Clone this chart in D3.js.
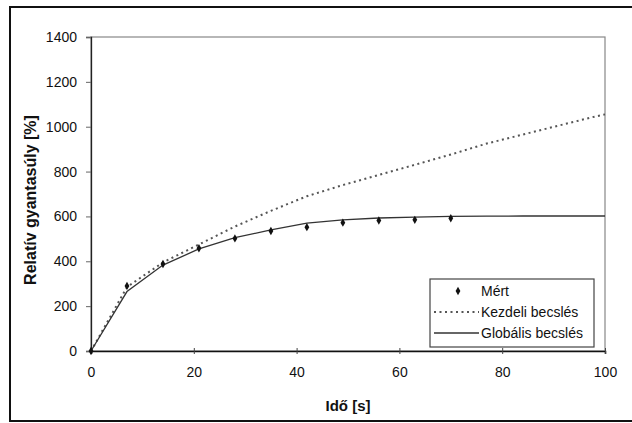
<!DOCTYPE html>
<html>
<head>
<meta charset="utf-8">
<script src="https://cdn.jsdelivr.net/npm/d3@7"></script>
<style>
  body { margin: 0; background: #fff; }
  text { font-family: "Liberation Sans", Arial, sans-serif; fill: #111; }
</style>
</head>
<body>
<div id="chart"></div>
<script>
// Mért pontok
const measuredT = [0, 7, 14, 21, 28, 35, 42, 49, 56, 63, 70];
const measuredY = [0, 290, 388, 458, 502, 535, 552, 572, 582, 585, 592];

// Kezdeli becslés
const initT = [0, 7, 14, 21, 28, 35, 42, 49, 56, 63, 70, 77, 84, 91, 98, 100];
const initY = [0, 285, 395, 475, 555, 625, 690, 740, 785, 830, 876, 925, 965, 1005, 1045, 1055];

// Globális becslés
const globT = [0, 7, 14, 21, 28, 35, 42, 49, 56, 63, 70, 77, 84, 91, 100];
const globY = [0, 265, 383, 455, 505, 540, 570, 585, 593, 597, 600, 601, 602, 602, 602];

const xTicks = [0, 20, 40, 60, 80, 100];
const yTicks = [0, 200, 400, 600, 800, 1000, 1200, 1400];
const legendLabels = ['Mért', 'Kezdeli becslés', 'Globális becslés'];

const W = 632, H = 423;
const plotL = 91, plotR = 605, plotT = 37, plotB = 351;

const svg = d3.select('#chart').append('svg')
  .attr('width', W)
  .attr('height', H);

// külső keret
svg.append('rect')
  .attr('x', 10).attr('y', 7)
  .attr('width', 630).attr('height', 414)
  .attr('fill', 'none')
  .attr('stroke', '#111')
  .attr('stroke-width', 2);

const x = d3.scaleLinear().domain([0, 100]).range([plotL, plotR]);
const y = d3.scaleLinear().domain([0, 1400]).range([plotB, plotT]);

// rajzterület kerete
svg.append('rect')
  .attr('x', plotL).attr('y', plotT)
  .attr('width', plotR - plotL).attr('height', plotB - plotT)
  .attr('fill', 'none')
  .attr('stroke', '#888')
  .attr('stroke-width', 1.2);

// tengelyek
const xAxis = svg.append('g')
  .attr('transform', `translate(0,${plotB})`)
  .call(d3.axisBottom(x).tickValues(xTicks).tickFormat(d3.format('d')).tickSize(3).tickPadding(13));
xAxis.selectAll('.tick line').attr('y1', -3).attr('stroke', '#444');
xAxis.select('.domain').attr('stroke', '#111').attr('stroke-width', 1.6);

const yAxis = svg.append('g')
  .attr('transform', `translate(${plotL},0)`)
  .call(d3.axisLeft(y).tickValues(yTicks).tickFormat(d3.format('d')).tickSize(5).tickPadding(9));
yAxis.selectAll('.tick line').attr('stroke', '#666');
yAxis.select('.domain').attr('stroke', '#222').attr('stroke-width', 1.3);

svg.selectAll('.tick text')
  .style('font-family', '"Liberation Sans", Arial, sans-serif')
  .style('font-size', '14px')
  .attr('fill', '#111');

// tengelycímek
svg.append('text')
  .attr('x', (plotL + plotR) / 2).attr('y', 411)
  .attr('text-anchor', 'middle')
  .style('font-size', '15px')
  .style('font-weight', 'bold')
  .text('Idő [s]');

svg.append('text')
  .attr('transform', `translate(36,${(plotT + plotB) / 2 + 6}) rotate(-90)`)
  .attr('text-anchor', 'middle')
  .style('font-size', '16px')
  .style('font-weight', 'bold')
  .text('Relatív gyantasúly [%]');

const line = d3.line().x(d => x(d[0])).y(d => y(d[1]));

// Kezdeli becslés (pontozott)
svg.append('path')
  .datum(d3.zip(initT, initY))
  .attr('d', line)
  .attr('fill', 'none')
  .attr('stroke', '#555')
  .attr('stroke-width', 2)
  .attr('stroke-dasharray', '2,3.5');

// Globális becslés
svg.append('path')
  .datum(d3.zip(globT, globY))
  .attr('d', line)
  .attr('fill', 'none')
  .attr('stroke', '#333')
  .attr('stroke-width', 1.3);

// Mért
svg.append('g')
  .selectAll('path')
  .data(d3.zip(measuredT, measuredY))
  .enter().append('path')
  .attr('d', d3.symbol(d3.symbolDiamond, 20))
  .attr('transform', d => `translate(${x(d[0])},${y(d[1])})`)
  .attr('fill', '#111');

// jelmagyarázat
const lg = svg.append('g');
lg.append('rect')
  .attr('x', 430).attr('y', 279)
  .attr('width', 164).attr('height', 68)
  .attr('fill', '#fff')
  .attr('stroke', '#444')
  .attr('stroke-width', 1.2);

const rowsY = [291, 312, 333];
lg.append('path')
  .attr('d', d3.symbol(d3.symbolDiamond, 20))
  .attr('transform', `translate(458,${rowsY[0]})`)
  .attr('fill', '#111');
lg.append('line')
  .attr('x1', 434).attr('x2', 479)
  .attr('y1', rowsY[1]).attr('y2', rowsY[1])
  .attr('stroke', '#555').attr('stroke-width', 2)
  .attr('stroke-dasharray', '2,3.5');
lg.append('line')
  .attr('x1', 434).attr('x2', 479)
  .attr('y1', rowsY[2]).attr('y2', rowsY[2])
  .attr('stroke', '#333').attr('stroke-width', 1.3);

lg.selectAll('text.lab')
  .data(legendLabels)
  .enter().append('text')
  .attr('class', 'lab')
  .attr('x', 481)
  .attr('y', (d, i) => rowsY[i])
  .attr('dy', '0.35em')
  .style('font-size', '14px')
  .text(d => d);
</script>
</body>
</html>
